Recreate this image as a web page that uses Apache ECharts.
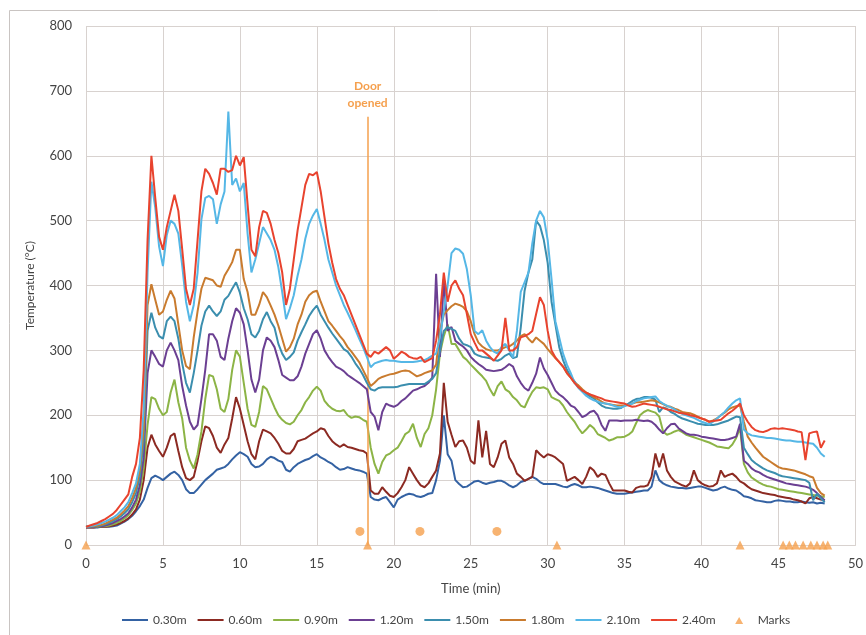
<!DOCTYPE html>
<html>
<head>
<meta charset="utf-8">
<script src="https://cdn.jsdelivr.net/npm/echarts@6/dist/echarts.min.js"></script>
<style>
  html, body { margin: 0; padding: 0; background: #fff; }
  #chart { width: 866px; height: 635px; }
</style>
</head>
<body>
<div id="chart"></div>
<script>
// time in minutes, sampled every 0.25 min
const times = [
  0, 0.25, 0.5, 0.75, 1, 1.25, 1.5, 1.75, 2, 2.25, 2.5, 2.75, 3, 3.25, 3.5, 3.75,
  4, 4.25, 4.5, 4.75, 5, 5.25, 5.5, 5.75, 6, 6.25, 6.5, 6.75, 7, 7.25, 7.5, 7.75,
  8, 8.25, 8.5, 8.75, 9, 9.25, 9.5, 9.75, 10, 10.25, 10.5, 10.75, 11, 11.25, 11.5, 11.75,
  12, 12.25, 12.5, 12.75, 13, 13.25, 13.5, 13.75, 14, 14.25, 14.5, 14.75, 15, 15.25, 15.5, 15.75,
  16, 16.25, 16.5, 16.75, 17, 17.25, 17.5, 17.75, 18, 18.25, 18.5, 18.75, 19, 19.25, 19.5, 19.75,
  20, 20.25, 20.5, 20.75, 21, 21.25, 21.5, 21.75, 22, 22.25, 22.5, 22.75, 23, 23.25, 23.5, 23.75,
  24, 24.25, 24.5, 24.75, 25, 25.25, 25.5, 25.75, 26, 26.25, 26.5, 26.75, 27, 27.25, 27.5, 27.75,
  28, 28.25, 28.5, 28.75, 29, 29.25, 29.5, 29.75, 30, 30.25, 30.5, 30.75, 31, 31.25, 31.5, 31.75,
  32, 32.25, 32.5, 32.75, 33, 33.25, 33.5, 33.75, 34, 34.25, 34.5, 34.75, 35, 35.25, 35.5, 35.75,
  36, 36.25, 36.5, 36.75, 37, 37.25, 37.5, 37.75, 38, 38.25, 38.5, 38.75, 39, 39.25, 39.5, 39.75,
  40, 40.25, 40.5, 40.75, 41, 41.25, 41.5, 41.75, 42, 42.25, 42.5, 42.75, 43, 43.25, 43.5, 43.75,
  44, 44.25, 44.5, 44.75, 45, 45.25, 45.5, 45.75, 46, 46.25, 46.5, 46.75, 47, 47.25, 47.5, 47.75,
  48
]

const t030 = [
  27, 27, 27, 27, 28, 28, 28, 29, 30, 33, 36, 40, 45, 52, 60, 70,
  88, 103, 107, 104, 100, 105, 110, 113, 108, 100, 86, 80, 80, 86, 93, 100,
  105, 110, 116, 118, 120, 125, 132, 138, 143, 140, 136, 125, 120, 121, 125, 132,
  136, 134, 130, 128, 116, 113, 120, 125, 128, 131, 133, 137, 140, 135, 132, 128,
  125, 120, 116, 117, 120, 118, 116, 115, 113, 110, 74, 70, 69, 72, 74, 66,
  58, 70, 74, 77, 79, 78, 75, 74, 76, 79, 80, 100, 130, 200, 140, 130,
  100, 94, 89, 90, 94, 98, 99, 96, 94, 96, 97, 99, 99, 96, 92, 89,
  92, 97, 99, 102, 105, 102, 97, 94, 94, 94, 94, 92, 90, 89, 92, 94,
  92, 89, 89, 90, 89, 88, 86, 84, 82, 80, 79, 79, 79, 80, 81, 82,
  83, 84, 84, 90, 115, 100, 95, 92, 90, 89, 88, 88, 87, 88, 89, 90,
  90, 88, 86, 84, 85, 88, 90, 87, 85, 84, 80, 75, 74, 72, 69, 68,
  67, 66, 66, 68, 69, 68, 67, 67, 66, 66, 67, 66, 65, 66, 64, 65,
  64
]

const t060 = [
  27, 27, 27, 28, 28, 28, 29, 30, 32, 34, 37, 41, 47, 55, 70, 100,
  150, 170, 155, 145, 136, 150, 168, 172, 145, 120, 103, 100, 105, 130, 160, 183,
  180, 168, 150, 142, 155, 165, 195, 228, 210, 185, 160, 140, 132, 160, 178, 175,
  172, 165, 156, 145, 141, 141, 148, 160, 162, 164, 168, 172, 175, 180, 178, 168,
  160, 155, 151, 155, 151, 150, 148, 146, 145, 141, 84, 79, 79, 89, 82, 76,
  74, 80, 89, 100, 120, 110, 100, 92, 89, 95, 105, 115, 141, 250, 190, 170,
  151, 160, 161, 150, 130, 125, 192, 135, 176, 125, 120, 135, 156, 161, 135, 125,
  110, 105, 99, 102, 105, 146, 140, 135, 140, 138, 135, 130, 125, 99, 102, 105,
  100, 94, 105, 120, 115, 105, 110, 108, 95, 84, 84, 84, 84, 82, 81, 88,
  90, 90, 92, 105, 141, 120, 141, 115, 105, 98, 95, 92, 90, 95, 115, 100,
  95, 92, 90, 91, 95, 115, 105, 108, 110, 105, 98, 95, 90, 86, 84, 82,
  80, 79, 78, 77, 75, 74, 73, 72, 70, 69, 67, 64, 72, 74, 72, 70,
  69
]

const t090 = [
  28, 28, 28, 28, 29, 29, 30, 32, 34, 37, 41, 46, 54, 64, 82, 118,
  185, 228, 225, 210, 200, 205, 235, 255, 220, 195, 150, 130, 118, 140, 175, 225,
  262, 260, 240, 210, 205, 225, 270, 300, 290, 250, 210, 185, 182, 205, 245, 240,
  226, 212, 200, 193, 188, 186, 190, 200, 208, 220, 228, 238, 244, 238, 222, 215,
  210, 207, 206, 208, 200, 196, 198, 197, 193, 190, 150, 125, 110, 128, 138, 141,
  146, 150, 160, 171, 175, 187, 165, 151, 171, 180, 200, 240, 295, 322, 340, 310,
  310, 300, 290, 285, 278, 272, 266, 260, 253, 240, 230, 245, 252, 240, 236, 228,
  223, 215, 212, 225, 236, 243, 242, 243, 240, 228, 225, 222, 215, 205, 197, 190,
  180, 172, 178, 185, 180, 171, 168, 165, 161, 163, 166, 166, 167, 170, 175, 188,
  200, 205, 208, 206, 204, 198, 175, 170, 172, 175, 177, 174, 170, 168, 166, 164,
  162, 160, 158, 155, 152, 151, 150, 149, 155, 165, 180, 125, 112, 104, 100, 96,
  93, 91, 90, 88, 86, 85, 84, 83, 82, 81, 80, 79, 78, 77, 76, 75,
  74
]

const t120 = [
  28, 28, 28, 29, 29, 30, 32, 34, 37, 40, 44, 49, 58, 70, 92, 135,
  265, 300, 290, 279, 275, 300, 312, 300, 285, 245, 215, 190, 178, 185, 225, 270,
  325, 325, 315, 290, 285, 318, 345, 365, 358, 340, 300, 255, 235, 255, 300, 320,
  315, 305, 285, 262, 258, 254, 254, 260, 275, 295, 310, 325, 331, 318, 300, 290,
  282, 275, 272, 268, 262, 258, 254, 250, 245, 240, 205, 198, 177, 205, 218, 215,
  213, 216, 222, 226, 232, 238, 240, 243, 245, 250, 258, 418, 290, 410, 330, 336,
  315, 310, 306, 300, 290, 284, 279, 275, 270, 269, 268, 269, 270, 274, 279, 275,
  260, 250, 242, 238, 250, 264, 289, 272, 262, 250, 238, 232, 228, 222, 215, 212,
  205, 197, 200, 205, 207, 200, 185, 176, 192, 192, 192, 191, 192, 192, 192, 193,
  192, 191, 192, 190, 185, 178, 172, 180, 186, 187, 180, 176, 172, 170, 170, 169,
  167, 166, 165, 164, 163, 162, 162, 163, 165, 167, 187, 130, 125, 118, 114, 112,
  108, 105, 103, 101, 99, 97, 95, 94, 93, 92, 91, 90, 88, 85, 80, 74,
  69
]

const t150 = [
  28, 28, 29, 29, 30, 32, 34, 37, 40, 44, 49, 55, 66, 80, 105, 160,
  330, 358, 335, 322, 318, 345, 352, 345, 318, 280, 250, 235, 265, 300, 338, 360,
  369, 360, 353, 360, 378, 384, 395, 405, 389, 365, 348, 325, 320, 330, 348, 359,
  345, 335, 310, 295, 285, 290, 297, 315, 328, 340, 353, 362, 369, 355, 345, 335,
  326, 318, 310, 302, 298, 290, 280, 272, 262, 250, 240, 238, 242, 243, 243, 243,
  243, 244, 246, 247, 248, 248, 248, 248, 248, 252, 256, 265, 300, 330, 336, 333,
  330, 318, 310, 308, 305, 295, 292, 290, 289, 288, 285, 284, 287, 292, 295, 288,
  290, 335, 392, 420, 440, 500, 492, 470, 435, 375, 340, 305, 285, 270, 260, 252,
  244, 238, 233, 229, 226, 220, 215, 212, 211, 210, 210, 211, 215, 218, 222, 225,
  226, 228, 228, 227, 224, 205, 212, 210, 205, 202, 198, 195, 193, 191, 189, 187,
  186, 185, 185, 185, 186, 188, 190, 192, 195, 198, 197, 150, 140, 131, 126, 122,
  118, 115, 113, 111, 108, 106, 105, 104, 103, 102, 101, 100, 96, 69, 79, 72,
  66
]

const t180 = [
  28, 29, 29, 30, 31, 33, 36, 39, 42, 47, 53, 60, 72, 88, 115, 180,
  370, 402, 378, 355, 360, 378, 392, 380, 340, 300, 276, 271, 320, 360, 395, 412,
  410, 408, 400, 398, 415, 425, 436, 455, 455, 410, 390, 355, 355, 370, 390, 382,
  369, 355, 338, 318, 298, 305, 318, 340, 355, 375, 385, 390, 392, 375, 360, 345,
  338, 330, 322, 315, 305, 298, 290, 282, 270, 258, 245, 250, 256, 259, 261, 263,
  264, 266, 268, 269, 268, 264, 260, 262, 265, 267, 269, 278, 330, 355, 362, 368,
  372, 370, 367, 360, 345, 325, 312, 306, 302, 300, 300, 300, 302, 305, 306, 310,
  315, 322, 325, 318, 312, 320, 315, 310, 302, 295, 288, 282, 275, 265, 258, 250,
  246, 240, 235, 232, 228, 225, 221, 218, 217, 216, 215, 215, 215, 216, 218, 220,
  220, 221, 222, 223, 222, 220, 217, 214, 213, 210, 208, 205, 204, 203, 201, 198,
  195, 193, 190, 192, 195, 200, 204, 209, 212, 214, 215, 190, 167, 158, 150, 143,
  136, 132, 128, 124, 120, 118, 117, 116, 115, 113, 111, 109, 106, 104, 88, 80,
  76
]

const t210 = [
  28, 29, 30, 32, 34, 36, 39, 42, 46, 52, 58, 66, 80, 95, 125, 210,
  420, 560, 520, 460, 430, 478, 500, 495, 480, 431, 375, 345, 370, 420, 502, 535,
  538, 533, 495, 525, 545, 668, 555, 565, 545, 558, 480, 420, 440, 465, 490, 480,
  470, 455, 428, 390, 348, 365, 385, 415, 440, 472, 495, 508, 518, 495, 470, 440,
  420, 400, 385, 370, 358, 345, 332, 318, 305, 290, 274, 280, 282, 284, 285, 284,
  284, 283, 282, 282, 282, 282, 283, 284, 285, 288, 292, 295, 320, 360, 400, 450,
  457, 455, 449, 425, 385, 330, 325, 331, 315, 305, 298, 295, 305, 310, 300, 289,
  330, 390, 405, 420, 465, 500, 515, 505, 470, 410, 345, 320, 295, 278, 265, 250,
  242, 236, 230, 226, 223, 221, 219, 218, 217, 215, 213, 212, 214, 216, 218, 222,
  224, 226, 227, 228, 229, 222, 218, 215, 212, 209, 205, 202, 200, 198, 196, 193,
  190, 188, 186, 190, 195, 200, 205, 212, 218, 223, 226, 178, 172, 169, 168, 167,
  166, 165, 165, 164, 163, 162, 161, 161, 160, 159, 159, 158, 157, 156, 150, 141,
  136
]

const t240 = [
  28, 30, 32, 34, 37, 40, 44, 48, 54, 62, 70, 78, 105, 125, 165, 270,
  470, 600, 535, 475, 455, 490, 515, 540, 515, 456, 395, 370, 395, 470, 545, 580,
  572, 558, 540, 580, 580, 575, 578, 600, 585, 598, 525, 455, 445, 490, 515, 512,
  495, 470, 450, 420, 370, 395, 440, 485, 520, 555, 572, 570, 575, 545, 505, 465,
  435, 410, 395, 385, 370, 355, 340, 325, 310, 295, 290, 298, 295, 300, 305, 300,
  287, 292, 298, 295, 290, 288, 287, 290, 282, 285, 288, 315, 355, 420, 375, 400,
  408, 395, 385, 356, 325, 312, 300, 300, 295, 290, 284, 292, 300, 350, 300, 300,
  305, 320, 322, 325, 330, 356, 382, 370, 330, 300, 289, 282, 275, 265, 258, 250,
  243, 238, 235, 232, 230, 228, 226, 223, 222, 221, 220, 219, 218, 215, 213, 214,
  216, 218, 217, 216, 215, 213, 211, 209, 208, 206, 204, 203, 202, 200, 199, 197,
  195, 193, 190, 191, 192, 193, 198, 203, 207, 212, 218, 200, 190, 182, 177, 175,
  174, 176, 179, 180, 179, 180, 179, 178, 177, 175, 174, 131, 172, 174, 175, 150,
  161
]

const seriesNames = ['0.30m', '0.60m', '0.90m', '1.20m', '1.50m', '1.80m', '2.10m', '2.40m']
const seriesValues = [t030, t060, t090, t120, t150, t180, t210, t240]
const seriesColors = ['#3462a3', '#8c2a22', '#8cb446', '#6b3f92', '#3b8eae', '#c97b2e', '#55b7e6', '#e8432e']

// observation marks on the time axis
const markTimes = [0, 18.3, 30.6, 42.5, 45.3, 45.7, 46.1, 46.6, 47.1, 47.5, 47.9, 48.2]
const markValues = [0, 0, 0, 0, 0, 0, 0, 0, 0, 0, 0, 0]
const dotTimes = [17.8, 21.7, 26.7]
const dotValues = [21, 21, 21]
const doorTime = 18.3

const font = 'Lato, "Open Sans", sans-serif'
const markColor = '#f5a04e'
const chart = echarts.init(document.getElementById('chart'))

const lineSeries = seriesNames.map((name, k) => ({
  name: name,
  type: 'line',
  symbol: 'none',
  data: times.map((t, i) => [t, seriesValues[k][i]]),
  lineStyle: { width: 2, color: seriesColors[k] },
  itemStyle: { color: seriesColors[k] },
  z: 2 + k,
}))

// legend icons: a thin line, and a small triangle padded to the same box
const lineIcon = 'path://M0,4L26,4L26,6L0,6Z'
const triIcon = 'path://M0,0L0.01,0M26,10L26.01,10M8.5,9L12.5,2L16.5,9Z'

const option = {
  animation: false,
  backgroundColor: '#fff',
  textStyle: { fontFamily: font },
  graphic: [{
    type: 'rect',
    shape: { x: 9.5, y: 10.5, width: 870, height: 640 },
    style: { fill: 'none', stroke: '#c9c4c2', lineWidth: 1 },
    silent: true,
  }],
  grid: { left: 86, right: 9, top: 26, bottom: 90 },
  legend: {
    bottom: 4,
    left: 117,
    itemWidth: 26,
    itemHeight: 10,
    itemGap: 11,
    textStyle: { fontFamily: font, fontSize: 12, color: '#444' },
    data: seriesNames.map(n => ({ name: n, icon: lineIcon }))
      .concat([{ name: 'Marks', icon: triIcon, itemStyle: { color: markColor } }]),
  },
  xAxis: {
    type: 'value',
    min: 0,
    max: 50,
    interval: 5,
    name: 'Time (min)',
    nameLocation: 'middle',
    nameGap: 37,
    nameTextStyle: { fontFamily: font, fontSize: 13, color: '#444' },
    axisLine: { show: true, lineStyle: { color: '#d8d2cf' } },
    axisTick: { show: false },
    axisLabel: { fontFamily: font, fontSize: 13, color: '#444', margin: 12 },
    splitLine: { show: true, lineStyle: { color: '#d8d2cf', width: 1 } },
  },
  yAxis: {
    type: 'value',
    min: 0,
    max: 800,
    interval: 100,
    name: 'Temperature (°C)',
    nameLocation: 'middle',
    nameGap: 50,
    nameTextStyle: { fontFamily: font, fontSize: 12, color: '#444' },
    axisLine: { show: false },
    axisTick: { show: false },
    axisLabel: { fontFamily: font, fontSize: 13, color: '#444', margin: 14 },
    splitLine: { show: true, lineStyle: { color: '#d8d2cf', width: 1 } },
  },
  series: lineSeries.concat([
    {
      name: 'Marks',
      type: 'scatter',
      symbol: 'triangle',
      symbolSize: 9,
      data: markTimes.map((t, i) => [t, markValues[i]]),
      itemStyle: { color: markColor },
      z: 20,
    },
    {
      name: 'dots',
      type: 'scatter',
      symbol: 'circle',
      symbolSize: 9,
      data: dotTimes.map((t, i) => [t, dotValues[i]]),
      itemStyle: { color: markColor },
      z: 20,
      markLine: {
        silent: true,
        symbol: ['none', 'none'],
        lineStyle: { color: markColor, width: 1.5, type: 'solid' },
        label: {
          show: true,
          position: 'end',
          formatter: 'Door\nopened',
          color: markColor,
          fontWeight: 'bold',
          fontSize: 12,
          lineHeight: 17,
          fontFamily: font,
        },
        data: [[{ coord: [doorTime, 0] }, { coord: [doorTime, 660] }]],
      },
    },
  ]),
}

chart.setOption(option)
</script>
</body>
</html>
